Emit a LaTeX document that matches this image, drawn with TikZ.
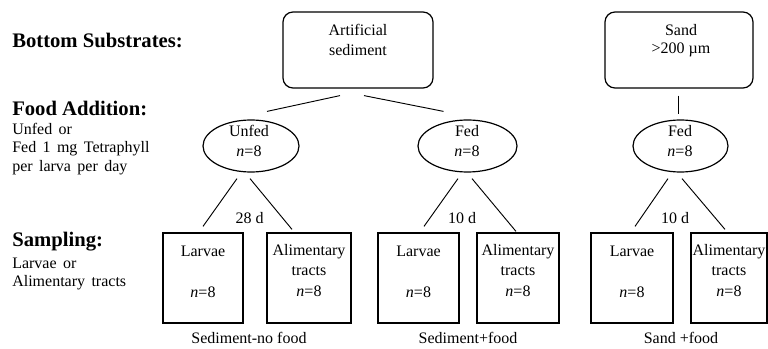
\documentclass[tikz,border=0pt]{standalone}
\usepackage{fontspec}
\setmainfont{Liberation Serif}
\usetikzlibrary{calc,shapes.geometric}
\newcommand\mywidesp{\spaceskip=0.4em plus 0.1em\relax}
\begin{document}
\begin{tikzpicture}[x=0.75pt,y=-0.75pt,
  txt/.style={inner sep=0pt,font={\fontsize{12}{14}\selectfont}},
  head/.style={inner sep=0pt,anchor=west,font={\fontsize{15.5}{18}\selectfont\bfseries}},
  side/.style={inner sep=0pt,anchor=west,font={\fontsize{12}{14}\selectfont\mywidesp}},
  subbox/.style={draw,line width=0.9pt,rounded corners=7.5pt,minimum width=150*0.75pt,minimum height=76*0.75pt,inner sep=0pt},
  feed/.style={draw,line width=0.9pt,ellipse,minimum height=52*0.75pt,inner sep=0pt},
  sampbox/.style={draw,line width=0.9pt,minimum height=90*0.75pt,inner sep=0pt},
  conn/.style={line width=0.7pt}]
\useasboundingbox (0,0) rectangle (768,349);

% left labels
\node[head] (hb) at (12,40) {Bottom Substrates:};
\node[head] (hf) at (12,108) {Food Addition:};
\node[side] (f1) at (12,129) {Unfed or};
\node[side] (f2) at (12,149) {Fed 1 mg Tetraphyll};
\node[side] (f3) at (12,168) {per larva per day};
\node[head] (hs) at (12,242) {Sampling:};
\node[side] (s1) at (12,263) {Larvae or};
\node[side] (s2) at (12,283) {Alimentary tracts};

% substrates
\node[subbox] (art) at (358,50) {};
\node[txt] (artt1) at (358,30) {Artificial};
\node[txt] (artt2) at (358,50) {sediment};
\node[subbox,minimum width=148*0.75pt] (sand) at (679,50) {};
\node[txt] (sandt1) at (681,30) {Sand};
\node[txt] (sandt2) at (681,50) {>200 µm};

% food
\node[feed,minimum width=96*0.75pt] (unfed) at (251,146) {};
\node[txt] (unfedt1) at (249,131) {Unfed};
\node[txt] (unfedt2) at (249,151) {\textit{n}=8};
\node[feed,minimum width=99*0.75pt] (fedA) at (467.5,146) {};
\node[txt] (fedAt1) at (467,131) {Fed};
\node[txt] (fedAt2) at (467,151) {\textit{n}=8};
\node[feed,minimum width=95*0.75pt] (fedB) at (680.5,146) {};
\node[txt] (fedBt1) at (680,131) {Fed};
\node[txt] (fedBt2) at (680,151) {\textit{n}=8};

\draw[conn] ($(art.south)+(-18,7)$) -- ($(unfed.north)+(16,-8)$);
\draw[conn] ($(art.south)+(6,7)$) -- ($(fedA.north)+(-24,-8)$);
\draw[conn] ($(sand.south)+(-1,7)$) -- ($(fedB.north)+(-2.5,-5)$);

% sampling boxes
\node[sampbox,minimum width=80*0.75pt] (la) at (203,278) {};
\node[sampbox,minimum width=84*0.75pt] (aa) at (309,278) {};
\node[sampbox,minimum width=81*0.75pt] (lb) at (418.5,278) {};
\node[sampbox,minimum width=82*0.75pt] (ab) at (518,278) {};
\node[sampbox,minimum width=82*0.75pt] (lc) at (632,278) {};
\node[sampbox,minimum width=76*0.75pt] (ac) at (729,278) {};

\foreach \b in {la,lb,lc}{
  \node[txt] (\b t1) at ($(\b.north)+(0,19)$) {Larvae};
  \node[txt] (\b t2) at ($(\b.north)+(0,60)$) {\textit{n}=8};
}
\foreach \b in {aa,ab,ac}{
  \node[txt] (\b t1) at ($(\b.north)+(0,19)$) {Alimentary};
  \node[txt] (\b t2) at ($(\b.north)+(0,39)$) {tracts};
  \node[txt] (\b t3) at ($(\b.north)+(0,59)$) {\textit{n}=8};
}

\draw[conn] ($(unfed.south)+(-14,6)$) -- ($(la.north)+(0,-6)$);
\draw[conn] ($(unfed.south)+(-1,6)$) -- ($(aa.north)+(-17,-3)$);
\draw[conn] ($(fedA.south)+(-9.5,6)$) -- ($(lb.north)+(5.5,-6)$);
\draw[conn] ($(fedA.south)+(4.5,6)$) -- ($(ab.north)+(-2,-1)$);
\draw[conn] ($(fedB.south)+(-12.5,6)$) -- ($(lc.north)+(3,-6)$);
\draw[conn] ($(fedB.south)+(1.5,6)$) -- ($(ac.north)+(-4,-3)$);

\node[txt] (d1) at (249.5,218) {28 d};
\node[txt] (d2) at (462,218) {10 d};
\node[txt] (d3) at (675,218) {10 d};

% captions
\node[txt] (c1) at (249,338) {Sediment-no food};
\node[txt] (c2) at (468,338) {Sediment+food};
\node[txt] (c3) at (681,338) {Sand +food};
\end{tikzpicture}
\end{document}
